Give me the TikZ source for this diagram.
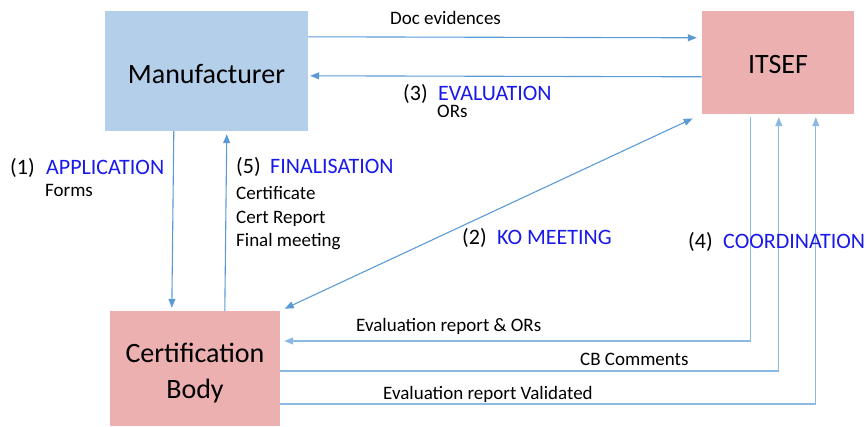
\documentclass[tikz,border=0pt]{standalone}
\usepackage{fontspec}
\setmainfont{Carlito}
\usetikzlibrary{arrows.meta}
\definecolor{manfill}{RGB}{180,207,234}
\definecolor{pinkfill}{RGB}{236,176,176}
\definecolor{arrowblue}{RGB}{91,155,213}
\definecolor{lineblue}{RGB}{140,185,228}
\definecolor{labelblue}{RGB}{25,25,235}
\tikzset{
  box/.style={draw=none, inner sep=0pt},
  boxtext/.style={anchor=base, inner sep=0pt, font=\fontsize{28}{32}\selectfont},
  small/.style={anchor=base west, inner sep=0pt, font=\fontsize{19}{23}\selectfont},
  num/.style={anchor=base west, inner sep=0pt, font=\fontsize{22}{26}\selectfont},
  phase/.style={num, text=labelblue},
  conn/.style={draw=arrowblue, line width=1.1pt, -{Triangle[length=9pt,width=7pt]}},
  connlight/.style={draw=lineblue, line width=1.1pt, -{Triangle[length=9pt,width=7pt]}}
}
\begin{document}
\begin{tikzpicture}[x=1pt,y=-1pt]
\useasboundingbox (0,0) rectangle (868,426);
% boxes
\node[box, fill=manfill, minimum width=203pt, minimum height=120pt] (man) at (206.5,71) {};
\node[box, fill=pinkfill, minimum width=152pt, minimum height=103pt] (itsef) at (778,62.5) {};
\node[box, fill=pinkfill, minimum width=170pt, minimum height=115pt] (cb) at (195,368.5) {};
% box texts
\node[boxtext] (mant) at (206.5,83) {Manufacturer};
\node[boxtext] (itsft) at (778,73) {ITSEF};
\node[boxtext] (cbt1) at (195,362) {Certification};
\node[boxtext] (cbt2) at (195,398) {Body};
% connectors
\draw[conn, shorten >=5pt] ([yshift=-26pt]man.north east) -- ([yshift=-27pt]itsef.north west);
\draw[conn, shorten >=2pt] ([yshift=-66pt]itsef.north west) -- ([yshift=-65pt]man.north east);
\draw[conn, shorten >=3pt] ([xshift=69pt]man.south west) -- ([xshift=62pt]cb.north west);
\draw[conn, shorten >=3pt] ([xshift=115pt]cb.north west) -- ([xshift=122pt]man.south west);
\draw[conn, {Triangle[length=9pt,width=7pt]}-{Triangle[length=9pt,width=7pt]}, shorten <=5pt, shorten >=10pt] (cb.north east) -- (itsef.south west);
\draw[connlight, shorten <=3pt, shorten >=4pt] ([xshift=49pt]itsef.south west) |- ([yshift=27.5pt]cb.east);
\draw[connlight, shorten >=3pt] ([yshift=-2.5pt]cb.east) -| ([xshift=77pt]itsef.south west);
\draw[connlight, shorten >=3pt] ([yshift=-35.5pt]cb.east) -| ([xshift=114pt]itsef.south west);
% labels
\node[small] (docev) at (390,24) {Doc evidences};
\node[num] (n3) at (403,100) {(3)};
\node[phase] (evalp) at (438,100) {EVALUATION};
\node[small] (ors) at (437,117.5) {ORs};
\node[num] (n1) at (10,174) {(1)};
\node[phase] (appl) at (46,174) {APPLICATION};
\node[small] (forms) at (45,196) {Forms};
\node[num] (n5) at (236,173) {(5)};
\node[phase] (fin) at (270,173) {FINALISATION};
\node[small] (cert) at (236,199) {Certificate};
\node[small] (certrep) at (236,223) {Cert Report};
\node[small] (finmeet) at (236,246) {Final meeting};
\node[num] (n2) at (462,244) {(2)};
\node[phase] (ko) at (497,244) {KO MEETING};
\node[num] (n4) at (688,248) {(4)};
\node[phase] (coord) at (723,248) {COORDINATION};
\node[small] (evrep) at (356,331) {Evaluation report \& ORs};
\node[small] (cbc) at (580,365) {CB Comments};
\node[small] (evval) at (383,399) {Evaluation report Validated};
\end{tikzpicture}
\end{document}
